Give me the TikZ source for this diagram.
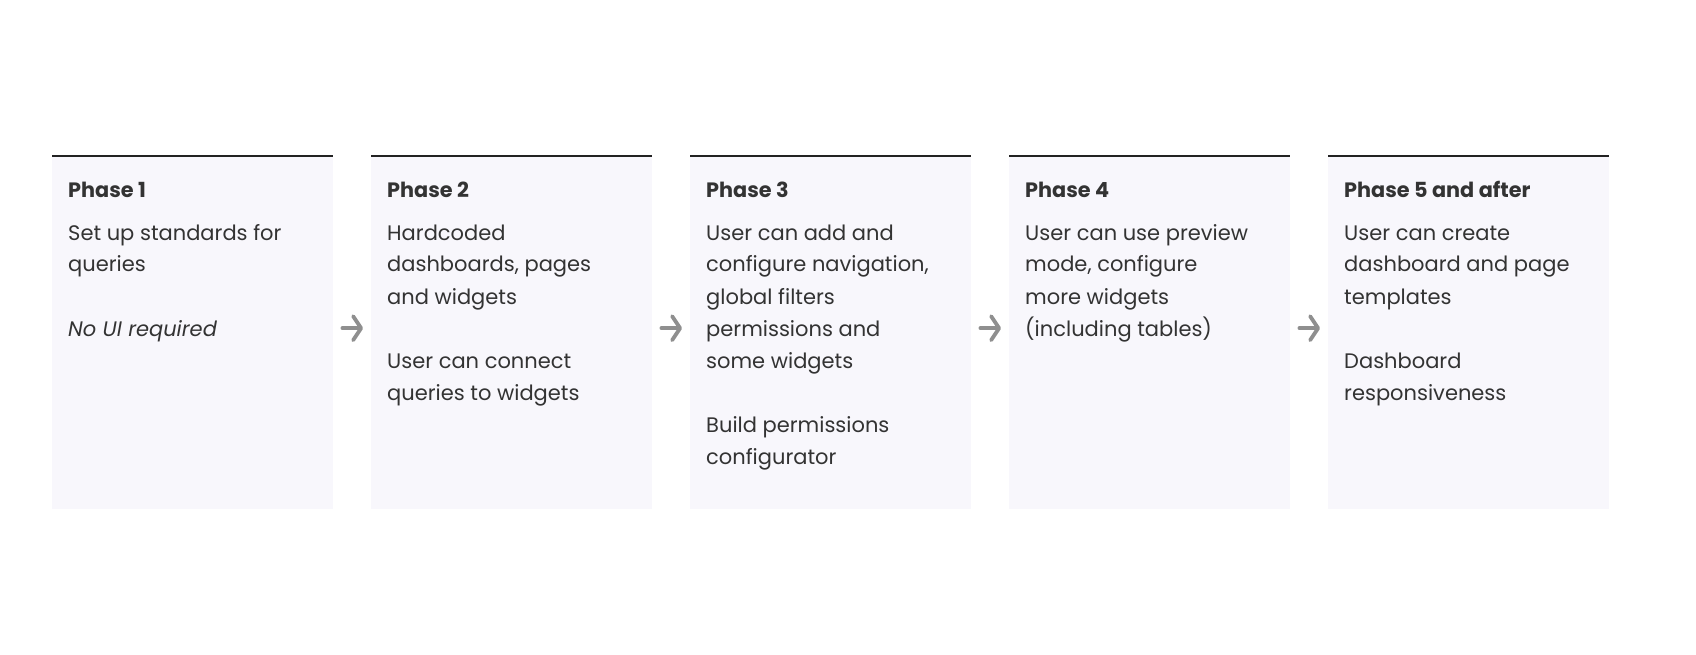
\documentclass[tikz,border=0pt]{standalone}
\usepackage{fontspec}
\setmainfont{Poppins}
\usetikzlibrary{arrows.meta}
\definecolor{boxfill}{HTML}{F8F7FC}
\definecolor{topline}{HTML}{222222}
\definecolor{txt}{HTML}{333333}
\definecolor{arr}{HTML}{8F8F8F}
\newcommand{\phtext}[1]{\parbox[t]{262pt}{\raggedright\fontsize{21}{32}\selectfont #1}}
\tikzset{
  phasebox/.style={rectangle, fill=boxfill, draw=none, inner sep=0pt, minimum width=281pt, minimum height=353pt, anchor=north west},
  phasetitle/.style={anchor=base west, inner sep=0pt, text=txt, font=\fontsize{20.8}{32}\selectfont\bfseries},
  phasebody/.style={anchor=base west, inner sep=0pt, text=txt},
  topline/.style={draw=topline, line width=1.3pt},
  phasearrow/.style={draw=arr, line width=3.8pt, line cap=round, -{Straight Barb[length=8pt,width=24pt,line join=round,line cap=round]}, shorten <=9pt, shorten >=8pt}
}
\begin{document}
\begin{tikzpicture}[x=1pt,y=-1pt]
\useasboundingbox (0,0) rectangle (1696,655);
\foreach \i/\x in {1/52,2/371,3/690,4/1009,5/1328}{
  \node[phasebox] (p\i) at (\x,156) {};
  \draw[topline] (p\i.north west) -- (p\i.north east);
}
\node[phasetitle] (t1) at (68,197) {Phase 1};
\node[phasebody] (b1) at (68,240) {\phtext{Set up standards for\\queries\\[32pt]\itshape No UI required}};
\node[phasetitle] (t2) at (387,197) {Phase 2};
\node[phasebody] (b2) at (387,240) {\phtext{Hardcoded\\dashboards, pages\\and widgets\\[32pt]User can connect\\queries to widgets}};
\node[phasetitle] (t3) at (706,197) {Phase 3};
\node[phasebody] (b3) at (706,240) {\phtext{User can add and\\configure navigation,\\global filters\\permissions and\\some widgets\\[32pt]Build permissions\\configurator}};
\node[phasetitle] (t4) at (1025,197) {Phase 4};
\node[phasebody] (b4) at (1025,240) {\phtext{User can use preview\\mode, configure\\more widgets\\(including tables)}};
\node[phasetitle] (t5) at (1344,197) {Phase 5 and after};
\node[phasebody] (b5) at (1344,240) {\phtext{User can create\\dashboard and page\\templates\\[32pt]Dashboard\\responsiveness}};
\foreach \a/\b in {1/2,2/3,3/4,4/5}{
  \draw[phasearrow] ([yshift=4.5pt]p\a.east) -- ([yshift=4.5pt]p\b.west);
}
\end{tikzpicture}
\end{document}
